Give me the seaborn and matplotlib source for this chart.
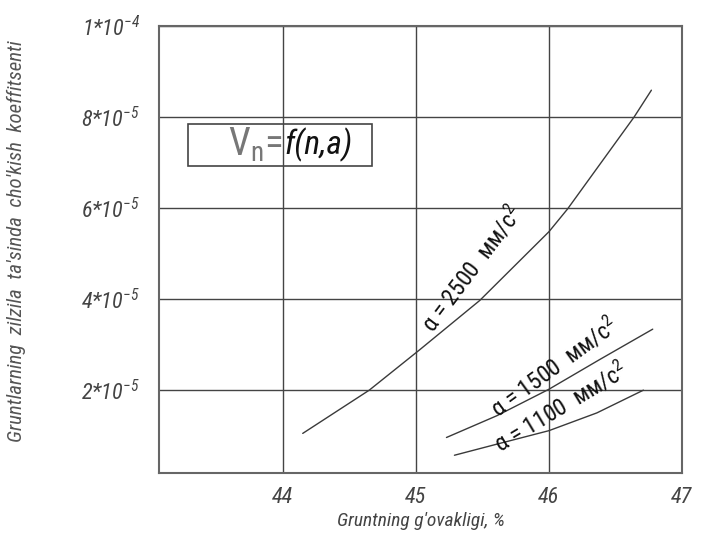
import pandas as pd
import seaborn as sb
import matplotlib.pyplot as plt
from matplotlib.patches import Rectangle

# values (porosity %, settlement coefficient)
x_2500 = [44.15, 44.65, 45.03, 45.48, 46.0, 46.14, 46.64, 46.77]
y_2500 = [1.05e-5, 2.0e-5, 2.89e-5, 3.97e-5, 5.48e-5, 5.98e-5, 8.0e-5, 8.59e-5]
x_1500 = [45.23, 45.61, 46.0, 46.38, 46.78]
y_1500 = [0.96e-5, 1.44e-5, 2.02e-5, 2.67e-5, 3.34e-5]
x_1100 = [45.29, 45.63, 46.0, 46.36, 46.71]
y_1100 = [0.57e-5, 0.83e-5, 1.11e-5, 1.50e-5, 2.0e-5]

xticks = [44, 45, 46, 47]
yticks = [2e-5, 4e-5, 6e-5, 8e-5, 1e-4]
ytick_labels = ['2*10$\\mathregular{^{-5}}$', '4*10$\\mathregular{^{-5}}$',
                '6*10$\\mathregular{^{-5}}$', '8*10$\\mathregular{^{-5}}$',
                '1*10$\\mathregular{^{-4}}$']

sb.set_theme(style='white')
fam = ['Liberation Sans Narrow', 'DejaVu Sans Condensed', 'Roboto Condensed',
       'Liberation Sans', 'DejaVu Sans']
plt.rcParams['font.family'] = fam

fig = plt.figure(figsize=(7.03, 5.34), dpi=100)
ax = fig.add_axes([159 / 703, 1 - 473 / 534, 523 / 703, 447 / 534])

line_col = '#3a3a3a'
for xs, ys in [(x_2500, y_2500), (x_1500, y_1500), (x_1100, y_1100)]:
    df = pd.DataFrame({'x': xs, 'y': ys})
    sb.lineplot(data=df, x='x', y='y', ax=ax, color=line_col, lw=1.0, sort=False)

ax.set_xlim(43.07, 47)
ax.set_ylim(0.18e-5, 1e-4)
ax.set_xticks(xticks)
ax.set_xticklabels([str(t) for t in xticks])
ax.set_yticks(yticks)
ax.set_yticklabels(ytick_labels)
ax.tick_params(length=0, labelsize=16, labelcolor='#444')
ax.tick_params(axis='x', pad=10)
ax.tick_params(axis='y', pad=14)
for lab in ax.get_xticklabels() + ax.get_yticklabels():
    lab.set_style('italic')
ax.grid(True, color='#444', lw=1.0)
for s in ax.spines.values():
    s.set_color('#666')
    s.set_linewidth(1.5)

ax.set_xlabel("Gruntning g'ovakligi, %", fontsize=14, color='#444',
              style='italic', labelpad=3)
ax.set_ylabel('')
fig.text(16 / 703, 1 - 241 / 534,
         "Gruntlarning  zilzila  ta'sinda  cho'kish  koeffitsenti",
         rotation=90, ha='center', va='center', fontsize=15, color='#555',
         style='italic')

# formula box
ax.add_patch(Rectangle((0.0555, 0.687), 0.351, 0.094, transform=ax.transAxes,
                       fill=False, ec='#444', lw=1.2))
ax.text(0.237, 0.734, 'V$\\mathregular{_n}$=', transform=ax.transAxes,
        ha='right', va='center', fontsize=28, color='#777')
ax.text(0.239, 0.734, 'f(n,a)', transform=ax.transAxes, ha='left',
        va='center', fontsize=24, color='#111', style='italic')

# curve labels
ax.text(45.42, 4.67e-5, 'α = 2500  мм/c$\\mathregular{^2}$', rotation=53,
        ha='center', va='center', fontsize=17, color='#111',
        rotation_mode='anchor')
ax.text(46.04, 2.5e-5, 'α = 1500  мм/c$\\mathregular{^2}$', rotation=36,
        ha='center', va='center', fontsize=17, color='#111',
        rotation_mode='anchor')
ax.text(46.09, 1.62e-5, 'α = 1100  мм/c$\\mathregular{^2}$', rotation=31,
        ha='center', va='center', fontsize=17, color='#111',
        rotation_mode='anchor')

fig.savefig('out.png', dpi=100)
